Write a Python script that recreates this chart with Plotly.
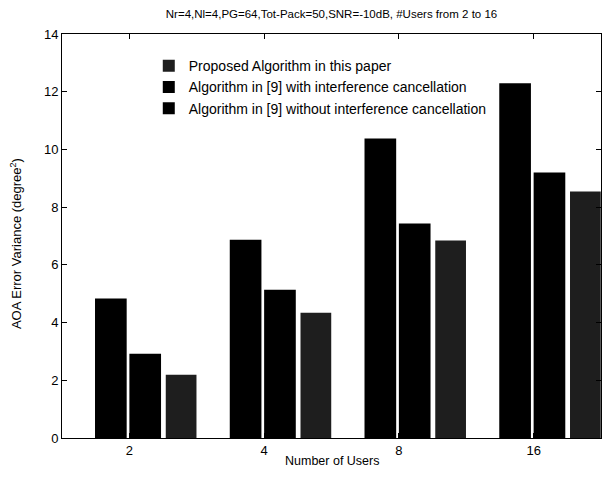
import plotly.graph_objects as go

categories = ["2", "4", "8", "16"]
without_ic = [4.83, 6.87, 10.38, 12.29]
with_ic = [2.92, 5.14, 7.43, 9.20]
proposed = [2.19, 4.34, 6.84, 8.54]

names = [
    "Algorithm in [9] without interference cancellation",
    "Algorithm in [9] with interference cancellation",
    "Proposed Algorithm in this paper",
]
series = [without_ic, with_ic, proposed]
colors = ["#000000", "#000000", "#1e1e1e"]
offsets = [-0.255, 0.0, 0.27]
widths = [0.235, 0.235, 0.228]

font = "Liberation Sans, Arial, sans-serif"
fig = go.Figure()
for name, vals, col, off, w in zip(names, series, colors, offsets, widths):
    fig.add_trace(go.Bar(
        x=categories, y=vals, name=name,
        marker=dict(color=col, line=dict(width=0)),
        offset=off, width=w,
    ))

fig.update_layout(
    width=603, height=479,
    margin=dict(l=62, r=2, t=34, b=41),
    paper_bgcolor="white", plot_bgcolor="white",
    barmode="overlay",
    font=dict(family=font, size=12, color="black"),
    title=dict(text="Nr=4,Nl=4,PG=64,Tot-Pack=50,SNR=-10dB, #Users from 2 to 16",
               xref="paper", x=0.5, xanchor="center", y=0.971, yanchor="middle",
               font=dict(size=11.5)),
    showlegend=True,
    legend=dict(x=0.161, y=0.96, xanchor="left", yanchor="top",
                traceorder="reversed", bgcolor="rgba(0,0,0,0)",
                font=dict(size=14), itemwidth=30, tracegroupgap=0),
    xaxis=dict(type="category", range=[-0.5, 3.5], automargin=False,
               showline=True, linecolor="black", linewidth=1, mirror="ticks",
               ticks="inside", ticklen=5, tickcolor="black", tickfont=dict(size=13),
               showgrid=False, zeroline=False),
    yaxis=dict(range=[0, 14], tickvals=[0, 2, 4, 6, 8, 10, 12, 14], automargin=False,
               showline=True, linecolor="black", linewidth=1, mirror="ticks",
               ticks="inside", ticklen=5, tickcolor="black", tickfont=dict(size=13),
               showgrid=False, zeroline=False),
    annotations=[
        dict(text="Number of Users", xref="paper", yref="paper", x=0.5, y=0,
             xanchor="center", yanchor="top", yshift=-14, showarrow=False,
             font=dict(size=12.5)),
        dict(text="AOA Error Variance (degree<sup>2</sup>)", xref="paper", yref="paper",
             x=0, y=0.48, xanchor="right", yanchor="middle", xshift=-36,
             textangle=-90, showarrow=False, font=dict(size=13)),
    ],
)

fig.write_html("out.html", config={"displayModeBar": False},
               post_script="document.body.style.margin='0';")
